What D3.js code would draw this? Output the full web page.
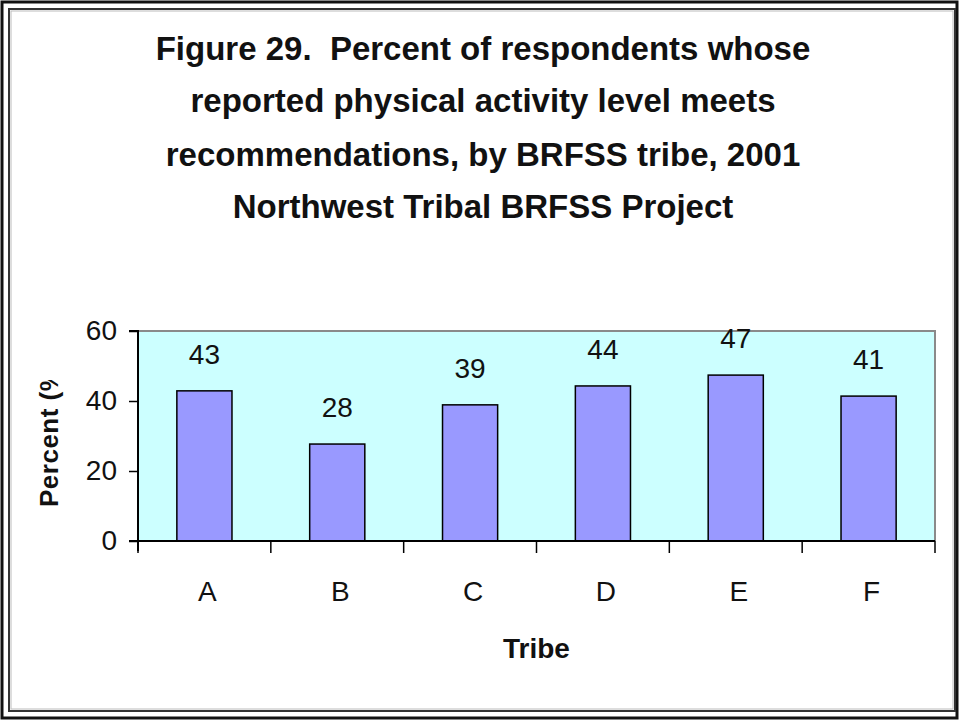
<!DOCTYPE html>
<html><head><meta charset="utf-8">
<script src="https://cdn.jsdelivr.net/npm/d3@7"></script>
<style>
html,body{margin:0;padding:0;background:#fff;}
svg{display:block;}
</style></head>
<body>
<script>
const categories = ["A","B","C","D","E","F"];
const values = [42.9, 27.7, 38.9, 44.3, 47.4, 41.4];
const yTicks = [0, 20, 40, 60];
const titleLines = [
  "Figure 29.  Percent of respondents whose",
  "reported physical activity level meets",
  "recommendations, by BRFSS tribe, 2001",
  "Northwest Tribal BRFSS Project"
];
const xTitle = "Tribe";
const yTitle = "Percent (%)";

const W = 960, H = 721;
const font = "'Liberation Sans',Arial,sans-serif";
const svg = d3.select("body").append("svg").attr("width", W).attr("height", H);

svg.append("rect").attr("width", W).attr("height", H).attr("fill", "#fff");
// frame
svg.append("rect").attr("x", 2).attr("y", 2).attr("width", 955).attr("height", 716)
  .attr("fill", "none").attr("stroke", "#111").attr("stroke-width", 3);
svg.append("rect").attr("x", 9).attr("y", 9).attr("width", 946).attr("height", 702)
  .attr("fill", "none").attr("stroke", "#333").attr("stroke-width", 2);
svg.append("rect").attr("x", 11).attr("y", 11).attr("width", 942).attr("height", 698)
  .attr("fill", "none").attr("stroke", "#bbb").attr("stroke-width", 1);

const plot = {left: 138, right: 935, top: 331, bottom: 541};
const x = d3.scaleBand().domain(categories).range([plot.left, plot.right]).paddingInner(0.585).paddingOuter(0.2925);
const y = d3.scaleLinear().domain([0, 60]).range([plot.bottom, plot.top]);

// plot area
svg.append("rect").attr("x", plot.left).attr("y", plot.top)
  .attr("width", plot.right - plot.left).attr("height", plot.bottom - plot.top)
  .attr("fill", "#CCFFFF");
svg.append("path")
  .attr("d", `M${plot.left},${plot.top}H${plot.right}V${plot.bottom}`)
  .attr("fill", "none").attr("stroke", "#8a8a8a").attr("stroke-width", 2);

// bars
svg.selectAll("rect.bar").data(values).join("rect").attr("class", "bar")
  .attr("x", (d, i) => x(categories[i]))
  .attr("y", d => y(d))
  .attr("width", x.bandwidth())
  .attr("height", d => y(0) - y(d))
  .attr("fill", "#9999FF").attr("stroke", "#000").attr("stroke-width", 1.5);

// value labels
svg.selectAll("text.val").data(values).join("text").attr("class", "val")
  .attr("x", (d, i) => x(categories[i]) + x.bandwidth() / 2)
  .attr("y", d => y(d) - 27)
  .attr("text-anchor", "middle")
  .attr("font-family", font).attr("font-size", 28).attr("fill", "#111")
  .text(d => d3.format(".0f")(d));

// y axis
const yAxis = d3.axisLeft(y).tickValues(yTicks).tickSize(9).tickPadding(12);
const gy = svg.append("g").attr("transform", `translate(${plot.left},0)`).call(yAxis);
gy.select(".domain").attr("stroke", "#000").attr("stroke-width", 2).attr("d", `M-9,${plot.top}H0V${plot.bottom + 10}`);
gy.selectAll(".tick line").attr("stroke", "#000").attr("stroke-width", 1.5);
gy.selectAll(".tick text").attr("font-family", font).attr("font-size", 28).attr("fill", "#111");

// x axis
const xTickPos = d3.range(categories.length + 1).map(i => plot.left + i * (plot.right - plot.left) / categories.length);
svg.append("line").attr("x1", plot.left - 9).attr("x2", plot.right).attr("y1", plot.bottom).attr("y2", plot.bottom)
  .attr("stroke", "#000").attr("stroke-width", 2);
svg.selectAll("line.xt").data(xTickPos).join("line").attr("class", "xt")
  .attr("x1", d => d).attr("x2", d => d).attr("y1", plot.bottom).attr("y2", plot.bottom + 12)
  .attr("stroke", "#000").attr("stroke-width", 1.5);
const xAxis = d3.axisBottom(x).tickSize(0).tickPadding(40);
const gx = svg.append("g").attr("transform", `translate(3,${plot.bottom})`).call(xAxis);
gx.select(".domain").remove();
gx.selectAll(".tick text").attr("font-family", font).attr("font-size", 28).attr("fill", "#111");

// titles
const titleBase = [59.5, 112, 166, 218];
svg.append("g").selectAll("text").data(titleLines).join("text")
  .attr("x", 483).attr("y", (d, i) => titleBase[i])
  .attr("text-anchor", "middle")
  .style("white-space", "pre")
  .attr("font-family", font).attr("font-weight", "bold").attr("font-size", 33).attr("fill", "#111")
  .text(d => d);

svg.append("text").attr("x", (plot.left + plot.right) / 2).attr("y", 658)
  .attr("text-anchor", "middle").attr("font-family", font).attr("font-weight", "bold")
  .attr("font-size", 28).attr("fill", "#111").text(xTitle);

// y title, clipped at the top as in the original
svg.append("defs").append("clipPath").attr("id", "yclip")
  .append("rect").attr("x", 20).attr("y", 380).attr("width", 60).attr("height", 200);
svg.append("g").attr("clip-path", "url(#yclip)")
  .append("text")
  .attr("transform", "translate(58,507) rotate(-90)")
  .attr("font-family", font).attr("font-weight", "bold").attr("letter-spacing", 0.5)
  .attr("font-size", 26).attr("fill", "#111").text(yTitle);
</script>
</body></html>
